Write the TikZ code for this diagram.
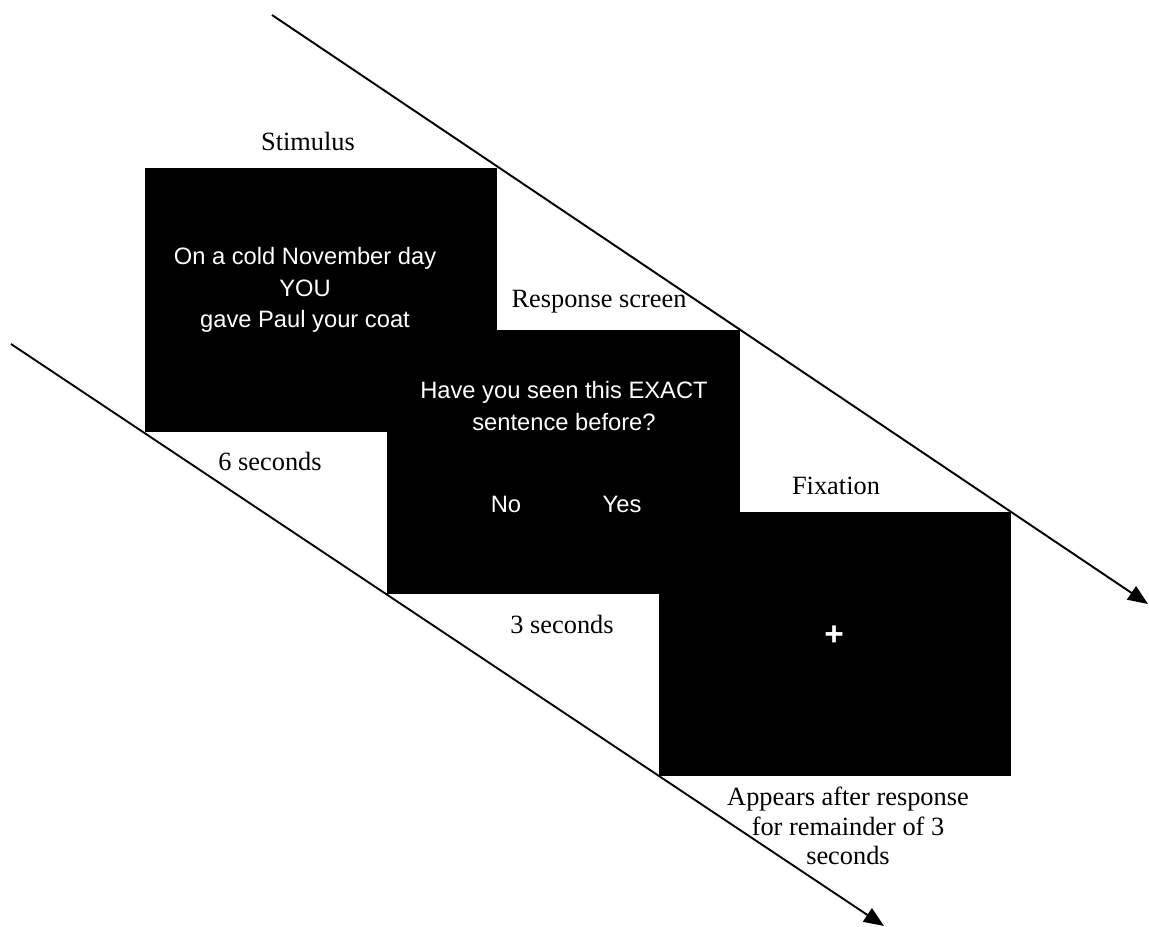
\documentclass[tikz,border=0pt]{standalone}
\usepackage{fontspec}
\setmainfont{Liberation Serif}
\setsansfont{Liberation Sans}
\usetikzlibrary{arrows.meta,positioning}

\begin{document}
\begin{tikzpicture}[
  x=0.2mm, y=-0.2mm,
  screen/.style={fill=black, minimum width=7.05cm, minimum height=5.28cm, inner sep=0pt},
  caption/.style={font=\fontsize{15}{16.8}\selectfont, align=center, inner sep=0pt},
  onscreen/.style={text=white, font=\sffamily\fontsize{13.5}{18}\selectfont, align=center, inner sep=0pt},
  arr/.style={-{Triangle[length=4mm, width=3.2mm]}, line width=1.1pt},
]
  \useasboundingbox (0,0) rectangle (1149,927);

  % Time axes (they run through the screen corners)
  \coordinate (top start) at (272,15);
  \coordinate (top end) at (1148,604);
  \coordinate (bottom start) at (11,344);
  \coordinate (bottom end) at (884,926);
  \draw[arr] (top start) -- (top end);
  \draw[arr] (bottom start) -- (bottom end);

  % Screens
  \node[screen] (stim) at (321,300) {};
  \node[screen] (resp) at (563.5,462) {};
  \node[screen] (fix) at (835,644) {};

  % Screen contents
  \node[onscreen] (stimtext) at (305,290) {On a cold November day\\YOU\\gave Paul your coat};
  \node[onscreen] (question) at (564,406) {Have you seen this EXACT\\sentence before?};
  \node[onscreen] (no) at (506,504) {No};
  \node[onscreen] (yes) at (622,504) {Yes};
  \node[onscreen, font=\sffamily\bfseries\fontsize{19}{20}\selectfont] (cross) at (834,636) {+};

  % Labels
  \node[caption] (stimlabel) at (308,141) {Stimulus};
  \node[caption] (stimtime) at (270,461) {6 seconds};
  \node[caption] (resplabel) at (599,302) {Response screen};
  \node[caption] (resptime) at (562,624) {3 seconds};
  \node[caption] (fixlabel) at (836,486) {Fixation};
  \node[caption] (fixtime) at (848,826) {Appears after response\\for remainder of 3\\seconds};
\end{tikzpicture}
\end{document}
